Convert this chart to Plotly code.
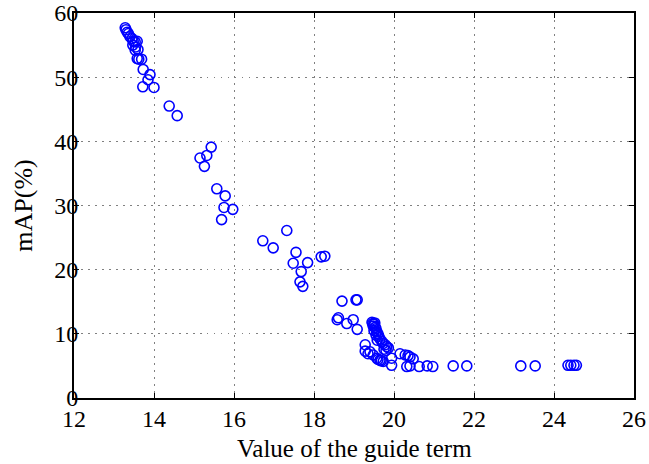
import plotly.graph_objects as go

# Guide-term value vs. mAP (%) for each trained model
guide_term = [
    13.28, 13.30, 13.33, 13.36, 13.40, 13.45, 13.48, 13.53, 13.58, 13.47,
    13.54, 13.53, 13.60, 13.58, 13.62, 13.69, 13.73, 13.90, 13.85, 13.72,
    14.00, 14.38, 14.58, 15.43, 15.32, 15.15, 15.26, 15.57, 15.78, 15.75,
    15.97, 15.69, 17.32, 16.72, 16.98, 17.55, 17.48, 17.84, 18.18, 18.27,
    17.68, 17.65, 17.72, 18.70, 19.05, 19.08, 18.61, 18.58, 18.82, 18.98,
    19.08, 19.45, 19.47, 19.50, 19.52, 19.48, 19.53, 19.55, 19.50, 19.57,
    19.60, 19.62, 19.65, 19.70, 19.73, 19.78, 19.82, 19.86, 19.75, 19.80,
    19.55, 19.58, 19.28, 19.28, 19.40, 19.48, 19.57, 19.65, 19.73, 19.68,
    19.35, 19.60, 19.94, 19.94, 20.15, 20.28, 20.35, 20.40, 20.48, 20.32,
    20.40, 20.63, 20.83, 20.97, 21.48, 21.82, 23.17, 23.53, 24.35, 24.42,
    24.50, 24.56,
]
map_percent = [
    57.7, 57.4, 57.0, 56.8, 56.3, 56.0, 55.6, 55.5, 55.6, 55.0,
    54.7, 54.2, 54.3, 52.9, 52.8, 52.8, 51.2, 50.4, 49.6, 48.5,
    48.4, 45.5, 44.0, 39.1, 37.8, 37.4, 36.1, 32.6, 31.5, 29.7,
    29.4, 27.8, 26.1, 24.5, 23.4, 22.7, 21.0, 21.1, 22.0, 22.1,
    19.7, 18.1, 17.4, 15.1, 15.3, 15.3, 12.5, 12.2, 11.6, 12.2,
    10.7, 11.8, 11.6, 11.5, 11.7, 11.2, 11.0, 10.8, 10.5, 10.3,
    10.0, 9.6, 9.2, 8.8, 8.5, 8.3, 8.0, 7.8, 7.6, 7.4,
    9.8, 9.0, 8.3, 7.3, 7.2, 6.7, 6.2, 5.9, 5.7, 5.8,
    6.9, 6.0, 6.2, 5.1, 6.9, 6.7, 6.6, 6.4, 6.1, 4.9,
    5.0, 4.9, 5.0, 4.9, 5.0, 5.0, 5.0, 5.0, 5.1, 5.1,
    5.1, 5.1,
]

x_ticks = [12, 14, 16, 18, 20, 22, 24, 26]
y_ticks = [0, 10, 20, 30, 40, 50, 60]
x_title = "Value of the guide term"
y_title = "mAP(%)"

FONT = "Times New Roman, Liberation Serif, Times, serif"

fig = go.Figure(
    go.Scatter(
        x=guide_term,
        y=map_percent,
        mode="markers",
        marker=dict(
            symbol="circle-open",
            size=10,
            color="#0000ff",
            line=dict(width=1.6, color="#0000ff"),
        ),
        cliponaxis=False,
        showlegend=False,
    )
)

axis_common = dict(
    automargin=False,
    showline=True,
    linecolor="black",
    linewidth=2,
    mirror="ticks",
    ticks="inside",
    ticklen=5,
    tickwidth=1,
    tickcolor="black",
    showgrid=True,
    gridcolor="#808080",
    griddash="1.5px,5.5px",
    gridwidth=1.2,
    zeroline=False,
    ticklabeloverflow="allow",
    tickfont=dict(family=FONT, size=24, color="black"),
)

fig.update_xaxes(
    range=[12, 26],
    tickvals=x_ticks,
    ticktext=[str(v) for v in x_ticks],
    ticklabelstandoff=-2,
    **axis_common,
)
fig.update_yaxes(
    range=[0, 60],
    tickvals=y_ticks,
    ticktext=[str(v) for v in y_ticks],
    ticklabelstandoff=-11,
    title=dict(text=y_title, font=dict(family=FONT, size=26, color="black"), standoff=14),
    **axis_common,
)

# x-axis title placed as an annotation below the tick labels
fig.add_annotation(
    text=x_title,
    xref="paper",
    yref="paper",
    x=0.5,
    y=-0.13,
    xanchor="center",
    yanchor="middle",
    showarrow=False,
    font=dict(family=FONT, size=25, color="black"),
)

fig.update_layout(
    width=649,
    height=464,
    margin=dict(l=74, r=15, t=13, b=66),
    plot_bgcolor="white",
    paper_bgcolor="white",
    font=dict(family=FONT, color="black"),
)

fig.write_html("out.html")
